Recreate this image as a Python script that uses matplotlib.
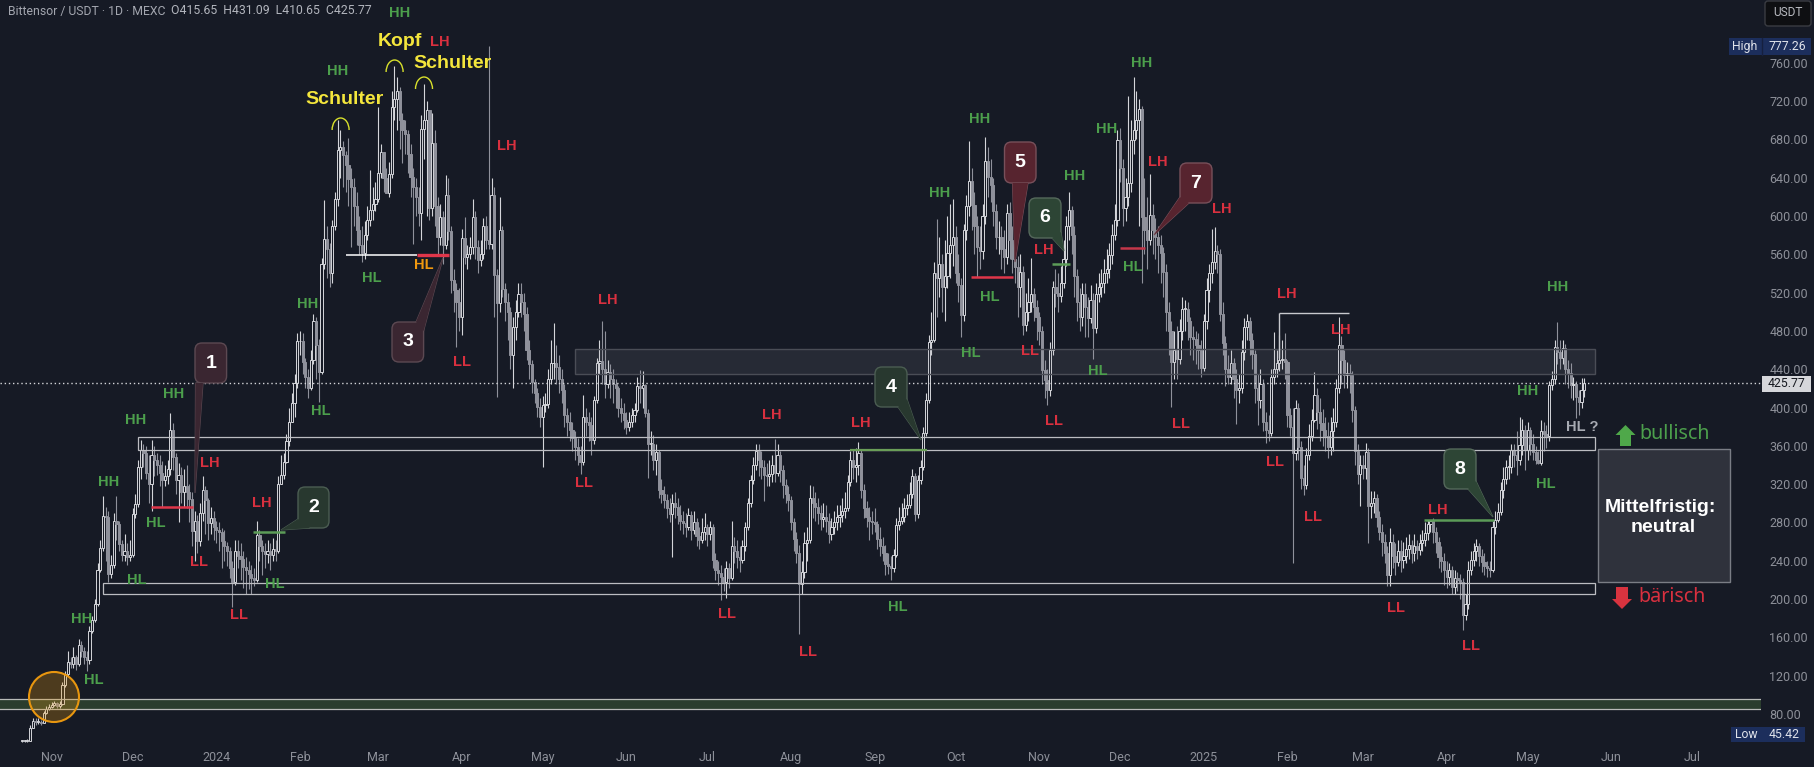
import matplotlib
matplotlib.use("Agg")
import matplotlib.pyplot as plt
from matplotlib.patches import FancyBboxPatch, Polygon, Circle, Arc, FancyArrow, Rectangle

# daily candles, (close, high, low), open is the close of the day before
oct_2023 = [(52,53,51),(52,53,51),(52,54,51),(65,68,52),(73,76,65),(72,76,69),(72,76,70),(71,74,68),(81,83,71),(85,88,80),
    (87,90,84)]
nov_2023 = [(89,92,86),(91,94,88),(88,92,86),(90,94,86),(110,113,89),(122,125,108),(134,146,120),(132,140,128),(139,150,128),(132,142,126),
    (152,158,130),(146,156,140),(140,150,132),(136,146,125),(167,172,132),(178,182,165),(195,200,176),(230,238,193),(253,262,228),(287,308,250),
    (286,296,240),(226,292,218),(236,246,222),(281,290,232),(278,308,262),(257,282,250),(246,262,240),(250,268,240),(244,258,236),(246,262,240)]
dec_2023 = [(289,295,244),(299,310,285),(338,345,296),(356,366,325),(352,362,338),(332,360,325),(320,350,300),(350,366,292),(345,360,328),(340,352,330),
    (332,350,318),(324,344,296),(328,340,318),(336,345,320),(376,394,330),(348,384,335),(324,352,310),(330,342,280),(312,338,300),(318,336,296),
    (312,340,295),(304,320,280),(271,312,255),(281,292,240),(261,288,248),(290,300,255),(314,328,282),(303,318,268),(279,306,262),(285,296,268),
    (275,292,262)]
jan_2024 = [(272,282,258),(270,280,250),(261,274,232),(255,272,240),(250,260,235),(232,254,222),(218,240,192),(250,262,215),(245,262,232),(242,258,220),
    (233,250,212),(230,244,205),(226,240,210),(222,236,205),(220,232,214),(267,282,218),(255,272,240),(250,262,225),(247,258,232),(250,262,238),
    (246,258,230),(252,264,240),(250,262,240),(320,328,248),(330,350,322),(343,352,325),(365,372,342),(385,400,360),(405,415,395),(426,435,390),
    (469,478,420)]
feb_2024 = [(469,480,455),(448,478,435),(432,452,420),(420,440,410),(450,460,418),(490,498,445),(465,495,430),(437,472,406),(550,556,435),(576,617,545),
    (565,590,535),(540,572,526),(590,596,530),(618,625,585),(669,700,610),(672,690,640),(664,678,630),(653,668,625),(639,681,610),(630,650,568),
    (610,640,590),(585,625,570),(570,600,560),(561,590,552),(580,595,555),(596,610,575),(606,648,590),(612,630,596),(618,635,605)]
mar_2024 = [(645,714,615),(667,675,640),(640,665,625),(624,650,624),(644,656,620),(714,730,640),(722,757,700),(731,745,690),(700,735,670),(690,708,655),
    (686,700,665),(665,690,645),(641,675,620),(630,650,571),(620,640,600),(603,630,590),(691,705,575),(700,738,660),(711,720,600),(608,710,596),
    (676,708,600),(610,690,590),(578,620,560),(599,612,570),(570,605,550),(622,643,565),(584,640,575),(533,590,520),(523,545,500),(510,530,463),
    (495,525,480)]
apr_2024 = [(577,586,476),(557,599,550),(560,570,545),(568,578,555),(599,618,560),(568,605,555),(554,575,540),(560,575,548),(590,598,555),(575,600,565),
    (571,777,565),(622,640,565),(538,630,495),(509,545,411),(585,620,500),(524,590,515),(510,530,490),(500,520,470),(455,505,440),(484,495,420),
    (500,512,470),(519,530,495),(510,530,495),(498,520,480),(460,505,450),(445,470,430),(427,450,415),(415,430,405),(401,420,390),(390,410,380)]
may_2024 = [(403,412,338),(404,415,395),(430,440,400),(446,470,425),(446,488,430),(442,465,425),(430,455,415),(418,440,405),(392,425,380),(385,400,370),
    (376,395,365),(368,385,355),(359,375,345),(350,368,340),(343,360,331),(390,413,340),(385,400,370),(382,395,365),(366,390,350),(408,412,362),
    (446,452,405),(449,470,435),(440,490,425),(425,480,410),(437,450,420),(430,445,410),(425,440,405),(420,430,400),(400,422,390),(394,410,385),
    (387,405,378)]
jun_2024 = [(380,395,372),(385,395,375),(392,400,380),(397,405,385),(422,432,395),(420,439,405),(423,438,400),(394,425,390),(362,398,326),(362,375,350),
    (345,371,335),(354,362,330),(314,356,305),(310,325,300),(303,318,295),(295,310,285),(289,305,280),(300,310,244),(296,312,285),(288,305,278),
    (282,298,272),(279,292,268),(275,290,265),(288,295,272),(272,292,262),(280,292,268),(266,285,255),(262,275,252),(270,285,258),(275,290,262)]
jul_2024 = [(268,278,255),(275,282,262),(241,278,232),(230,248,220),(227,240,215),(223,236,199),(218,232,208),(232,240,201),(222,238,212),(255,282,220),
    (250,265,238),(244,262,232),(241,255,228),(255,262,238),(275,280,250),(300,306,272),(324,330,296),(340,348,320),(355,362,335),(345,362,328),
    (338,355,325),(330,345,302),(328,342,318),(331,345,318),(340,350,322),(332,367,322),(350,362,328),(335,355,322),(319,340,305),(310,325,300),
    (303,318,292)]
aug_2024 = [(280,308,272),(263,285,250),(248,270,238),(216,256,163),(228,240,205),(258,270,222),(262,275,240),(305,319,258),(300,318,285),(296,312,282),
    (290,305,278),(284,298,272),(286,300,275),(282,298,270),(268,290,258),(275,285,262),(280,292,268),(286,298,272),(288,298,275),(292,305,280),
    (295,312,285),(322,330,292),(345,355,318),(338,356,325),(340,358,322),(352,364,330),(314,356,305),(295,320,285),(286,302,275),(282,296,262),
    (280,292,268)]
sep_2024 = [(278,295,270),(263,282,252),(255,275,245),(248,265,240),(237,256,225),(234,248,226),(232,245,220),(246,252,228),(277,285,244),(282,296,272),
    (286,300,278),(295,305,280),(298,310,288),(310,322,295),(328,336,305),(289,332,282),(324,330,285),(338,345,320),(373,380,335),(408,415,370),
    (468,476,405),(470,500,455),(540,552,468),(535,597,495),(550,578,515),(526,560,500),(537,575,490),(561,600,525),(570,612,535),(578,618,548)]
oct_2024 = [(540,590,530),(528,560,510),(497,535,474),(585,592,490),(610,622,575),(636,678,600),(611,650,585),(590,625,560),(568,600,536),(563,590,545),
    (600,612,555),(657,682,592),(641,672,620),(632,660,615),(605,640,590),(578,612,565),(578,595,560),(565,590,545),(557,585,540),(603,612,550),
    (575,615,555),(555,590,540),(547,578,530),(526,558,495),(542,560,505),(486,548,476),(500,520,480),(510,535,490),(519,556,500),(505,525,490),
    (495,512,470)]
nov_2024 = [(480,500,465),(439,485,425),(429,450,410),(418,440,403),(460,468,412),(526,532,455),(520,545,505),(516,540,500),(530,548,510),(555,575,525),
    (590,600,548),(606,625,575),(580,610,560),(537,590,515),(510,545,490),(495,525,480),(519,530,485),(505,530,474),(493,515,474),(512,528,488),
    (483,520,451),(519,530,478),(526,540,510),(530,545,515),(540,555,520),(545,565,530),(559,572,535),(580,592,550),(596,612,575),(679,690,590)]
dec_2024 = [(650,692,635),(608,660,590),(620,640,595),(634,725,610),(679,700,625),(690,745,665),(700,730,680),(712,722,590),(599,715,530),(585,640,560),
    (575,620,545),(601,644,570),(585,612,560),(578,598,555),(570,590,540),(561,580,530),(542,568,515),(500,550,480),(480,510,455),(448,490,401),
    (460,480,430),(451,485,430),(480,492,445),(503,515,470),(503,512,480),(490,510,470),(474,495,455),(472,485,450),(465,480,445),(460,478,440),
    (441,470,432)]
jan_2025 = [(490,498,438),(523,535,482),(540,550,510),(552,586,530),(563,588,545),(560,570,540),(498,565,490),(467,510,455),(440,475,422),(432,455,425),
    (446,460,425),(430,452,410),(418,440,383),(420,435,405),(458,470,415),(484,493,450),(490,498,470),(470,495,455),(456,478,440),(420,460,405),
    (408,435,382),(425,440,400),(385,430,375),(376,395,363),(373,392,365),(432,440,370),(440,479,425),(446,460,432),(450,476,438),(451,470,440),
    (448,478,430)]
feb_2025 = [(392,450,380),(380,400,370),(352,399,238),(399,408,345),(359,405,345),(326,365,315),(319,340,309),(350,358,315),(370,383,345),(387,398,365),
    (413,437,385),(395,420,378),(384,410,365),(376,398,360),(370,390,355),(359,385,347),(375,390,350),(385,400,355),(420,430,380),(465,495,415),
    (450,475,425),(434,460,420),(436,448,420),(434,445,415),(397,438,385),(355,402,340),(331,362,320),(340,350,297)]
mar_2025 = [(337,350,325),(354,363,325),(297,358,259),(300,313,285),(305,313,290),(286,310,275),(270,292,262),(260,278,245),(248,268,238),(225,255,214),
    (260,274,214),(245,268,232),(239,258,225),(250,262,235),(241,262,228),(245,260,232),(252,265,238),(256,268,242),(248,262,238),(255,268,240),
    (251,262,242),(258,268,246),(262,272,250),(269,280,255),(278,283,262),(281,283,270),(270,285,258),(260,275,248),(244,265,232),(240,255,228),
    (230,248,215)]
apr_2025 = [(223,240,212),(230,238,215),(213,235,205),(222,230,205),(220,228,208),(218,226,200),(183,222,168),(195,205,178),(230,240,190),(241,250,225),
    (250,258,235),(255,263,240),(245,258,235),(239,252,228),(234,248,225),(232,240,223),(230,240,223),(275,282,228),(283,292,268),(291,300,280),
    (314,322,288),(325,338,305),(338,345,320),(338,350,325),(356,362,332),(350,362,338),(345,375,330),(361,390,340),(376,388,350),(356,382,335)]
may_2025 = [(376,385,345),(362,380,350),(354,372,345),(345,360,341),(342,355,341),(375,387,340),(372,385,355),(370,382,358),(423,428,365),(430,438,418),
    (463,470,425),(458,489,445),(452,470,440),(462,470,445),(440,466,425),(436,450,420),(423,446,410),(425,432,408),(411,428,389),(406,418,392),
    (418,431,400),(425.77,431.09,410.65)]

month_candles = [oct_2023, nov_2023, dec_2023, jan_2024, feb_2024, mar_2024, apr_2024, may_2024, jun_2024, jul_2024,
                 aug_2024, sep_2024, oct_2024, nov_2024, dec_2024, jan_2025, feb_2025, mar_2025, apr_2025, may_2025]
first_day = -11  # days counted from 2023-11-01

month_days = [0, 30, 61, 92, 121, 152, 182, 213, 243, 274, 305, 335, 366, 396, 427, 458, 486, 517, 547, 578, 608]
month_labels = ["Nov", "Dec", "2024", "Feb", "Mar", "Apr", "May", "Jun", "Jul", "Aug", "Sep", "Oct", "Nov", "Dec",
                "2025", "Feb", "Mar", "Apr", "May", "Jun", "Jul"]
price_ticks = list(range(80, 761, 40))

last_price = 425.77
upper_box = (369, 356, 32, 572)
lower_box = (216.4, 205, 19, 572)
green_band = (95.6, 84.8)
grey_zone = (460.7, 434.6, 194, 572)

# price, first day, last day, colour, width
level_lines = [
    (296, 36.8, 52.2, "#e0364a", 1.8),
    (270, 74.6, 86.5, "#5c9c58", 1.8),
    (559, 109, 135.4, "#ffffff", 1.1),
    (559, 135.4, 147.3, "#e0364a", 2.4),
    (355.6, 295.7, 324.4, "#6a9e58", 1.6),
    (536.6, 340.7, 356.3, "#e0364a", 1.8),
    (549.8, 370.7, 377.4, "#5c9c58", 1.8),
    (566.5, 396, 405.2, "#c4374a", 1.8),
    (283, 508.6, 534.6, "#5c9c58", 1.8),
    (498.6, 454.9, 480.8, "#c8c9ce", 1.0),
]

GREEN = "#4c9f4c"
RED = "#d9303f"
# label, x, y in picture pixels
green_labels = [("HH", 400, 13), ("HH", 338, 71), ("HH", 308, 304), ("HL", 372, 278), ("HH", 174, 394), ("HH", 136, 420),
    ("HH", 109, 482), ("HL", 156, 523), ("HL", 137, 580), ("HL", 275, 584), ("HH", 82, 619), ("HL", 94, 680), ("HL", 321, 411),
    ("HL", 898, 607), ("HH", 940, 193), ("HH", 980, 119), ("HL", 990, 297), ("HL", 971, 353), ("HH", 1075, 176), ("HL", 1098, 371),
    ("HH", 1107, 129), ("HH", 1142, 63), ("HL", 1133, 267), ("HH", 1558, 287), ("HH", 1528, 391), ("HL", 1546, 484)]
red_labels = [("LH", 440, 42), ("LH", 507, 146), ("LL", 462, 362), ("LH", 210, 463), ("LL", 199, 562), ("LH", 262, 503),
    ("LL", 239, 615), ("LL", 584, 483), ("LH", 608, 300), ("LH", 772, 415), ("LH", 861, 423), ("LL", 1054, 421), ("LL", 1181, 424),
    ("LL", 727, 614), ("LL", 808, 652), ("LL", 1030, 351), ("LH", 1044, 250), ("LH", 1158, 162), ("LH", 1222, 209), ("LH", 1287, 294),
    ("LH", 1341, 330), ("LL", 1275, 462), ("LL", 1313, 517), ("LL", 1396, 608), ("LH", 1438, 510), ("LL", 1471, 646)]
shoulder_labels = [("Schulter", 344.5, 100), ("Kopf", 399.5, 41), ("Schulter", 453, 63)]
head_arcs = [(340.6, 130), (394.6, 72), (424, 89)]

# number, box left/right/top/bottom, pointer base a, base b, tip
DIM_RED = ("#3a2631", "#5c4952")
RED_BOX = ("#57242f", "#77505a")
DIM_GREEN = ("#28382f", "#4b5d52")
GREEN_BOX = ("#2d4535", "#55695b")
callouts = [
    ("1", 195, 226.6, 343, 383, (195.5, 383), (203, 383), (195, 493), DIM_RED),
    ("2", 298, 329, 487, 528, (298, 519), (310, 528), (281, 530), DIM_GREEN),
    ("3", 392, 423.6, 322, 362, (416, 322), (423.6, 331), (443, 258), DIM_RED),
    ("4", 875, 907, 367, 407, (898, 407), (907, 399), (921, 440), DIM_GREEN),
    ("5", 1004.5, 1036, 142, 183, (1012.5, 183), (1028, 183), (1015, 262), RED_BOX),
    ("6", 1029, 1061, 198, 238, (1052, 238), (1061, 232), (1064, 251), GREEN_BOX),
    ("7", 1180, 1212, 163, 203, (1180, 197), (1189, 203), (1154, 235), RED_BOX),
    ("8", 1444, 1476, 449, 489, (1468, 489), (1476, 481), (1493, 517), GREEN_BOX),
]

BG = "#161a25"
UP = "#d4d5da"
DOWN = "#8f919b"
AXIS_TXT = "#8d9099"
BOLD = ["Liberation Sans", "DejaVu Sans"]
plt.rcParams["font.family"] = ["Noto Sans", "DejaVu Sans"]

fig = plt.figure(figsize=(18.15, 7.67), dpi=100, facecolor=BG)
ax = fig.add_axes([0, 22 / 767, 1761 / 1815, 745 / 767], facecolor=BG)
ax.set_xlim(-19.16, 633.5)
ax.set_ylim(47.6, 825.5)

# candles
day = first_day
prev_close = oct_2023[0][0]
for month in month_candles:
    for close, high, low in month:
        is_up = close >= prev_close
        color = UP if is_up else DOWN
        ax.vlines(day, min(low, close, prev_close), max(high, close, prev_close), color=color, lw=0.8, zorder=2)
        ax.add_patch(Rectangle((day - 0.4, min(close, prev_close)), 0.8, max(abs(close - prev_close), 0.5),
                               fc=BG if is_up else DOWN, ec=color, lw=0.7, zorder=2.5))
        prev_close = close
        day += 1

# zones
ax.axhspan(green_band[1], green_band[0], color="#2a3d2e", lw=0, zorder=1)
ax.axhline(green_band[0], color="#b8bab8", lw=0.9, zorder=3)
ax.axhline(green_band[1], color="#b8bab8", lw=0.9, zorder=3)
for top, bottom, start, end in [upper_box, lower_box]:
    ax.add_patch(Rectangle((start, bottom), end - start, top - bottom, fc="none", ec="#bcbdc2", lw=0.9, zorder=3))
top, bottom, start, end = grey_zone
ax.add_patch(Rectangle((start, bottom), end - start, top - bottom, fc="#a0a3ad", alpha=0.12, ec="none", zorder=3))
ax.add_patch(Rectangle((start, bottom), end - start, top - bottom, fc="none", ec="#4a4d56", lw=1.0, zorder=3))
ax.axhline(last_price, color="#d5d6da", lw=1.0, ls=(0, (1, 2)), zorder=3)

for price, start, end, color, width in level_lines:
    ax.hlines(price, start, end, color=color, lw=width, zorder=4)
ax.vlines(level_lines[-1][1], 452, 498.6, color="#c8c9ce", lw=1.0, zorder=4)

for side in ax.spines.values():
    side.set_visible(False)
ax.yaxis.tick_right()
ax.set_yticks(price_ticks)
ax.set_yticklabels([f"{p:.2f}" for p in price_ticks], fontsize=9, color=AXIS_TXT, fontfamily="Roboto")
ax.set_xticks(month_days)
ax.set_xticklabels(month_labels, fontsize=9, color=AXIS_TXT, fontfamily="Roboto")
ax.tick_params(axis="y", length=0, pad=6)
ax.tick_params(axis="x", length=0, pad=4)

# everything hand drawn on the chart goes on a pixel overlay
ov = fig.add_axes([0, 0, 1, 1], facecolor="none")
ov.set_xlim(0, 1815)
ov.set_ylim(767, 0)
ov.axis("off")

ov.add_patch(Circle((54, 697), 25, fc="#f59e0b", alpha=0.25, ec="none", zorder=5))
ov.add_patch(Circle((54, 697), 25, fc="none", ec="#e8960f", lw=1.5, zorder=5))

for text, x, y in green_labels:
    ov.text(x, y, text, color=GREEN, fontsize=10.5, ha="center", va="center", fontweight="bold", family=BOLD, zorder=6)
for text, x, y in red_labels:
    ov.text(x, y, text, color=RED, fontsize=10.5, ha="center", va="center", fontweight="bold", family=BOLD, zorder=6)
ov.text(424, 265, "HL", color="#f0980f", fontsize=10.5, ha="center", va="center", fontweight="bold", family=BOLD, zorder=6)
ov.text(1582, 427, "HL ?", color="#a8abb3", fontsize=10.5, ha="center", va="center", fontweight="bold", family=BOLD, zorder=6)

for text, x, y in shoulder_labels:
    ov.text(x, y, text, color="#f4e63c", fontsize=14, fontweight="bold", family=BOLD, ha="center", va="center", zorder=6)
for x, y in head_arcs:
    ov.add_patch(Arc((x, y), 17, 24, theta1=180, theta2=360, color="#d8e02c", lw=1.0, zorder=6))

for num, left, right, top, bottom, base_a, base_b, tip, (fill, edge) in callouts:
    ov.add_patch(Polygon([base_a, tip, base_b], closed=True, fc=fill, ec=edge, lw=0.8, zorder=6))
    ov.add_patch(FancyBboxPatch((left + 7, top + 7), right - left - 14, bottom - top - 14,
                                boxstyle="round,pad=7,rounding_size=7", fc=fill, ec=edge, lw=1.0, zorder=6))
    ov.add_patch(Polygon([base_a, tip, base_b], closed=True, fc=fill, ec="none", zorder=6))
    ov.text((left + right) / 2, (top + bottom) / 2, num, color="white", fontsize=14, fontweight="bold", family=BOLD,
            ha="center", va="center", zorder=7)

# sentiment box on the right
ov.add_patch(Rectangle((1598, 448.7), 132, 133.6, fc="#2f323c", ec="#7a7d85", lw=1.0, zorder=5))
ov.text(1660, 507, "Mittelfristig:", color="white", fontsize=14, fontweight="bold", family=BOLD, ha="center", va="center", zorder=6)
ov.text(1663.5, 527, "neutral", color="white", fontsize=14, fontweight="bold", family=BOLD, ha="center", va="center", zorder=6)
ov.add_patch(FancyArrow(1625.5, 446, 0, -21, width=11, head_width=20, head_length=10, length_includes_head=True,
                        fc="#4fa84a", ec="none", zorder=6))
ov.add_patch(FancyArrow(1622, 587, 0, 22, width=12, head_width=20, head_length=10, length_includes_head=True,
                        fc="#d8333f", ec="none", zorder=6))
ov.text(1674.5, 434, "bullisch", color=GREEN, fontsize=14.2, ha="center", va="center", zorder=6)
ov.text(1672.5, 597, "bärisch", color=RED, fontsize=14.2, ha="center", va="center", zorder=6)

# header and price scale tags
ov.text(8, 11, "Bittensor / USDT · 1D · MEXC", color="#a3a6af", fontsize=8.8, fontfamily="Roboto", va="center", zorder=6)
ov.text(171, 11, "O415.65  H431.09  L410.65  C425.77", color="#b2b5bd", fontsize=8.8, fontfamily="Roboto", va="center", zorder=6)

ov.add_patch(FancyBboxPatch((1768, 4), 40, 19, boxstyle="round,pad=3,rounding_size=3", fc="#0e0f12", ec="#3a3c42", lw=1, zorder=6))
ov.text(1788, 13, "USDT", color="#b8bac0", fontsize=8.6, fontfamily="Roboto", ha="center", va="center", zorder=7)

ov.add_patch(Rectangle((1729, 38), 82, 17, fc="#1c2e5c", ec="none", zorder=6))
ov.plot([1761.6, 1761.6], [38, 55], color="#16203f", lw=1, zorder=7)
ov.text(1745, 46.5, "High", color="#dfe2ea", fontsize=8.8, fontfamily="Roboto", ha="center", va="center", zorder=7)
ov.text(1787, 46.5, "777.26", color="#dfe2ea", fontsize=8.8, fontfamily="Roboto", ha="center", va="center", zorder=7)

ov.add_patch(Rectangle((1731, 727), 74, 15, fc="#1c2e5c", ec="none", zorder=6))
ov.text(1746, 734.5, "Low", color="#dfe2ea", fontsize=8.8, fontfamily="Roboto", ha="center", va="center", zorder=7)
ov.text(1784, 734.5, "45.42", color="#dfe2ea", fontsize=8.8, fontfamily="Roboto", ha="center", va="center", zorder=7)

ov.add_patch(Rectangle((1762, 375.5), 49, 16, fc="#d6d7db", ec="none", zorder=6))
ov.text(1787, 383.5, "425.77", color="#15181f", fontsize=8.8, fontfamily="Roboto", ha="center", va="center", zorder=7)

fig.savefig("out.png", dpi=100, facecolor=BG)
